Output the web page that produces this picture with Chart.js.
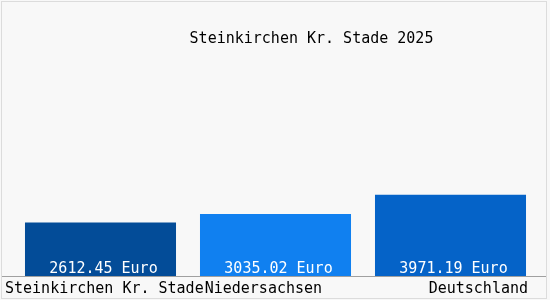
<!DOCTYPE html>
<html>
<head>
<meta charset="utf-8">
<script src="https://cdn.jsdelivr.net/npm/chart.js@4"></script>
<style>
  html, body { margin: 0; padding: 0; background: #f8f8f8; }
  #wrap { width: 550px; height: 300px; }
</style>
</head>
<body>
<div id="wrap"><canvas id="chart" width="550" height="300"></canvas></div>
<script>
const chartTitle = 'Steinkirchen Kr. Stade 2025';
const regions = ['Steinkirchen Kr. Stade', 'Niedersachsen', 'Deutschland'];
const income = [2612.45, 3035.02, 3971.19];
const barColors = ['#034c98', '#1080f0', '#0563c8'];
const unit = 'Euro';

const monoFont = '15px "DejaVu Sans Mono", "Liberation Mono", monospace';

// background, frame, axis line, title, labels
const decor = {
    id: 'decor',
    beforeDraw(chart) {
        const c = chart.ctx;
        c.save();
        c.fillStyle = '#f8f8f8';
        c.fillRect(0, 0, chart.width, chart.height);
        c.strokeStyle = '#dcdcdc';
        c.lineWidth = 1;
        c.strokeRect(1.5, 1.5, chart.width - 5, chart.height - 3);
        c.restore();
    },
    afterDatasetsDraw(chart) {
        const c = chart.ctx;
        const area = chart.chartArea;
        const meta = chart.getDatasetMeta(0);
        c.save();
        c.font = monoFont;

        // value labels inside the bars
        c.fillStyle = '#ffffff';
        c.textAlign = 'center';
        c.textBaseline = 'alphabetic';
        meta.data.forEach((bar, i) => {
            c.fillText(income[i].toFixed(2) + ' ' + unit, bar.x + 3, area.bottom - 3);
        });

        // axis line
        c.strokeStyle = '#a0a0a0';
        c.beginPath();
        c.moveTo(2, area.bottom + 0.5);
        c.lineTo(chart.width - 4, area.bottom + 0.5);
        c.stroke();

        // category labels
        c.fillStyle = '#000000';
        const y = area.bottom + 17;
        c.textAlign = 'left';
        c.fillText(regions[0], area.left - 8, y);
        const w0 = c.measureText(regions[0]).width;
        c.fillText(regions[1], area.left - 8 + w0 + 1, y);
        c.textAlign = 'right';
        c.fillText(regions[2], area.right - 10, y);

        // title
        c.textAlign = 'center';
        c.fillText(chartTitle, (area.left + area.right) / 2 + 36, 43);
        c.restore();
    }
};

new Chart(document.querySelector('#chart'), {
    type: 'bar',
    data: {
        labels: regions,
        datasets: [{
            data: income,
            backgroundColor: barColors,
            borderWidth: 0,
            categoryPercentage: 1,
            barPercentage: 0.863
        }]
    },
    options: {
        responsive: false,
        animation: false,
        layout: { padding: { top: 54, bottom: 24, left: 13, right: 12 } },
        plugins: {
            legend: { display: false },
            title: { display: false },
            tooltip: { enabled: false }
        },
        scales: {
            x: { display: false },
            y: { display: false, min: 0, max: 10850 }
        }
    },
    plugins: [decor]
});
</script>
</body>
</html>
